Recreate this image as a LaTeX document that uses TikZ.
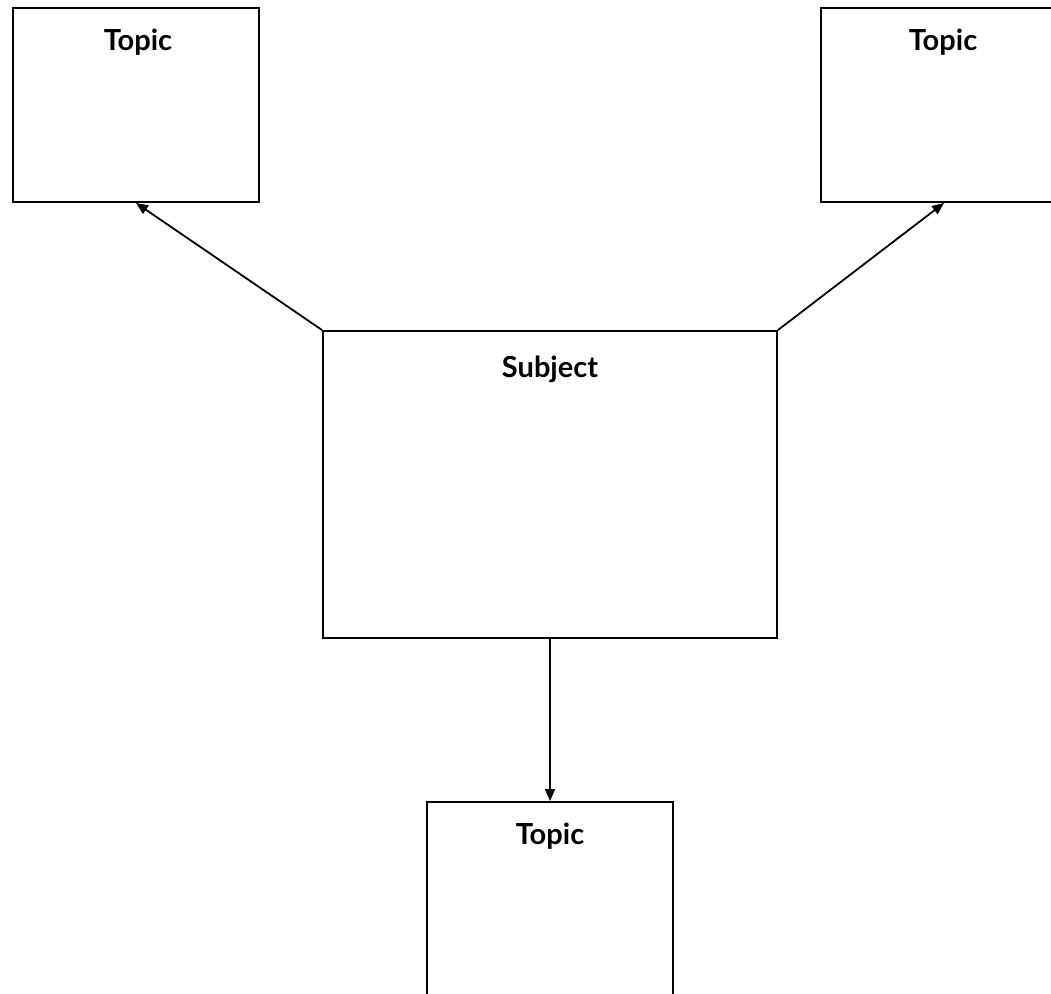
\documentclass[tikz,border=0pt]{standalone}
\usepackage{fontspec}
\setmainfont{Lato}
\usetikzlibrary{arrows.meta}
\begin{document}
\begin{tikzpicture}[x=1pt,y=-1pt,
  box/.style={draw=black,line width=1.9pt,fill=white,inner sep=0pt},
  ttl/.style={font=\fontsize{29}{34}\selectfont\bfseries,anchor=center},
  conn/.style={line width=1.8pt,-{Triangle[length=12pt,width=10pt]}}]
\useasboundingbox (0,0) rectangle (1051,993);
\clip (0,0) rectangle (1051,993);
\node[box,minimum width=246pt,minimum height=194pt] (tl) at (136,105) {};
\node[box,minimum width=246pt,minimum height=194pt] (tr) at (944,105) {};
\node[box,minimum width=454pt,minimum height=307pt] (sub) at (550,484.5) {};
\node[box,minimum width=246pt,minimum height=194pt] (bot) at (550,899) {};
\node[ttl] (tlt) at (138,42) {Topic};
\node[ttl] (trt) at (943,42) {Topic};
\node[ttl] (subt) at (550,369) {Subject};
\node[ttl] (bott) at (550,836) {Topic};
\draw[conn] (sub.north west) -- (tl.south);
\draw[conn] (sub.north east) -- (tr.south);
\draw[conn] (sub.south) -- (bot.north);
\end{tikzpicture}
\end{document}
